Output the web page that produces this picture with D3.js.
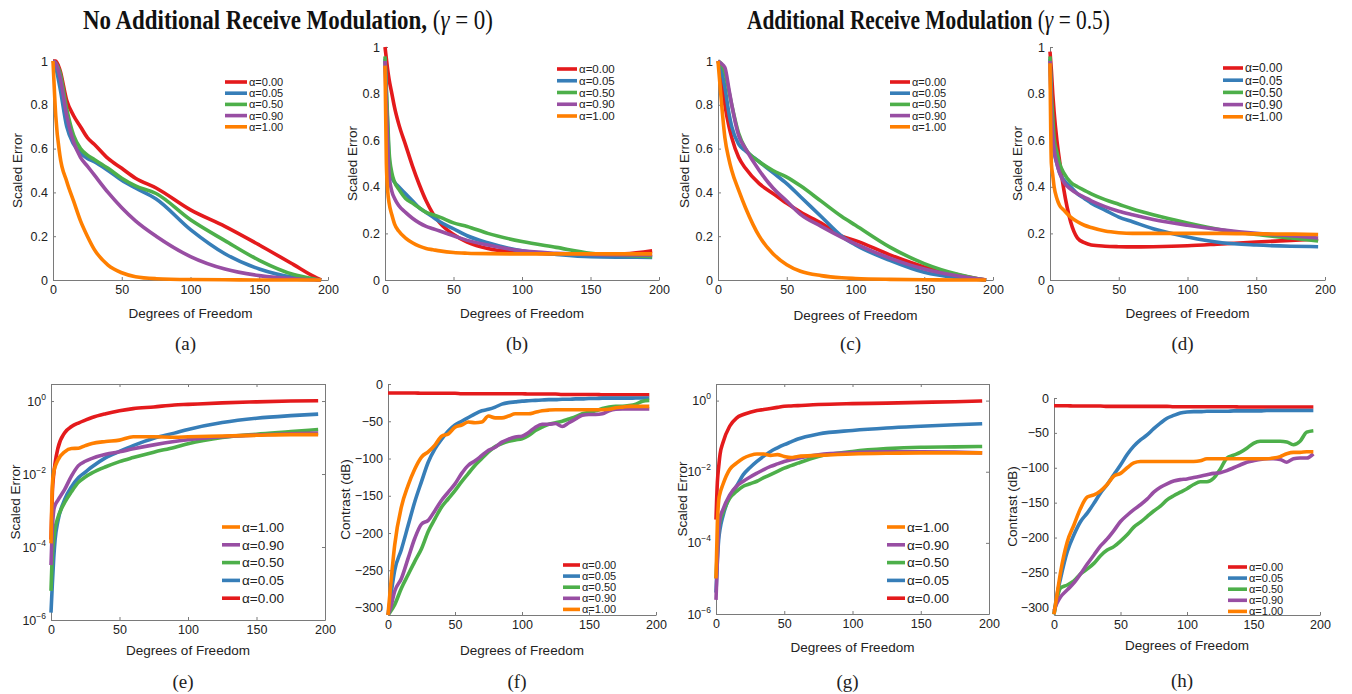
<!DOCTYPE html>
<html>
<head>
<meta charset="utf-8">
<script src="https://cdn.jsdelivr.net/npm/d3@7"></script>
<style>
  body { margin: 0; background: #fff; }
  .axis path, .axis line { stroke: #7a7a7a; }
  .axis text { fill: #222; font-family: "Liberation Sans", Arial, sans-serif; font-size: 12.5px; }
</style>
</head>
<body>
<svg id="fig" width="1352" height="694"></svg>
<script>
// ---- data ----
const titleLeft = ["No Additional Receive Modulation, ", "0"];
const titleRight = ["Additional Receive Modulation ", "0.5"];
const alphaLabels = ["α=0.00", "α=0.05", "α=0.50", "α=0.90", "α=1.00"];
const seriesColors = ["#e41a1c", "#377eb8", "#4daf4a", "#984ea3", "#ff7f00"];
const xTicks = [0, 50, 100, 150, 200];
const linTicks = [0, 0.2, 0.4, 0.6, 0.8, 1];
const logTicks = [1e-6, 1e-4, 1e-2, 1];
const dbTicks = [-300, -250, -200, -150, -100, -50, 0];

// (a) scaled error, gamma = 0
const xA = [0, 2, 5, 10, 15, 20, 25, 30, 40, 50, 60, 75, 100, 125, 150, 175, 190, 195];
const errA = [
  [1, 1, 0.96, 0.82, 0.75, 0.70, 0.65, 0.62, 0.555, 0.51, 0.465, 0.42, 0.32, 0.245, 0.16, 0.07, 0.015, 0],
  [1, 0.97, 0.88, 0.70, 0.62, 0.58, 0.555, 0.54, 0.5, 0.455, 0.42, 0.37, 0.23, 0.12, 0.05, 0.012, 0.002, 0],
  [1, 0.99, 0.95, 0.78, 0.66, 0.6, 0.57, 0.55, 0.51, 0.465, 0.43, 0.395, 0.275, 0.18, 0.09, 0.025, 0.005, 0],
  [1, 0.99, 0.93, 0.75, 0.63, 0.56, 0.52, 0.48, 0.40, 0.33, 0.27, 0.20, 0.107, 0.05, 0.02, 0.005, 0.001, 0],
  [1, 0.75, 0.57, 0.45, 0.36, 0.27, 0.2, 0.14, 0.068, 0.033, 0.015, 0.006, 0.002, 0.001, 0, 0, 0, 0]
];

// (b) scaled error, gamma = 0
const xB = [0, 1, 2, 3, 5, 7, 10, 15, 20, 25, 30, 35, 40, 50, 60, 75, 100, 125, 150, 175, 195];
const errB = [
  [1, 0.95, 0.9, 0.86, 0.8, 0.74, 0.67, 0.58, 0.49, 0.41, 0.34, 0.285, 0.245, 0.195, 0.163, 0.135, 0.118, 0.112, 0.108, 0.112, 0.125],
  [0.95, 0.8, 0.65, 0.52, 0.44, 0.42, 0.40, 0.37, 0.34, 0.31, 0.29, 0.27, 0.25, 0.22, 0.19, 0.16, 0.125, 0.11, 0.1, 0.098, 0.097],
  [0.96, 0.82, 0.68, 0.55, 0.46, 0.42, 0.39, 0.35, 0.33, 0.31, 0.29, 0.28, 0.27, 0.245, 0.23, 0.2, 0.165, 0.14, 0.115, 0.105, 0.1],
  [0.94, 0.75, 0.58, 0.45, 0.38, 0.35, 0.32, 0.29, 0.265, 0.245, 0.23, 0.22, 0.21, 0.19, 0.17, 0.15, 0.125, 0.115, 0.11, 0.108, 0.108],
  [0.92, 0.5, 0.38, 0.33, 0.28, 0.24, 0.21, 0.18, 0.16, 0.145, 0.135, 0.13, 0.125, 0.118, 0.115, 0.113, 0.112, 0.112, 0.112, 0.112, 0.112]
];

// (c) scaled error, gamma = 0.5
const xC = [0, 2, 5, 8, 10, 15, 20, 30, 40, 50, 60, 75, 90, 100, 125, 150, 175, 190, 195];
const errC = [
  [1, 0.95, 0.8, 0.7, 0.65, 0.56, 0.51, 0.44, 0.395, 0.35, 0.31, 0.26, 0.2, 0.18, 0.115, 0.06, 0.023, 0.005, 0],
  [1, 0.97, 0.88, 0.76, 0.7, 0.62, 0.59, 0.54, 0.49, 0.44, 0.38, 0.29, 0.2, 0.16, 0.09, 0.035, 0.01, 0.002, 0],
  [1, 0.99, 0.95, 0.86, 0.8, 0.67, 0.6, 0.54, 0.5, 0.47, 0.43, 0.36, 0.29, 0.25, 0.15, 0.075, 0.025, 0.005, 0],
  [1, 0.99, 0.97, 0.87, 0.8, 0.66, 0.6, 0.5, 0.42, 0.36, 0.3, 0.245, 0.195, 0.165, 0.1, 0.05, 0.018, 0.004, 0],
  [1, 0.85, 0.65, 0.55, 0.5, 0.41, 0.33, 0.2, 0.12, 0.07, 0.04, 0.02, 0.01, 0.007, 0.003, 0.001, 0, 0, 0]
];

// (d) scaled error, gamma = 0.5
const xD = [0, 1, 2, 3, 5, 7, 10, 15, 20, 25, 30, 40, 50, 60, 75, 100, 125, 150, 175, 195];
const errD = [
  [0.98, 0.9, 0.8, 0.72, 0.6, 0.51, 0.39, 0.25, 0.18, 0.16, 0.15, 0.145, 0.143, 0.142, 0.143, 0.147, 0.155, 0.163, 0.17, 0.175],
  [0.95, 0.72, 0.6, 0.55, 0.5, 0.46, 0.43, 0.4, 0.37, 0.35, 0.33, 0.3, 0.27, 0.25, 0.22, 0.185, 0.16, 0.15, 0.145, 0.143],
  [0.96, 0.8, 0.7, 0.61, 0.55, 0.5, 0.46, 0.42, 0.4, 0.385, 0.37, 0.345, 0.325, 0.305, 0.28, 0.245, 0.215, 0.195, 0.18, 0.168],
  [0.94, 0.72, 0.62, 0.56, 0.5, 0.46, 0.42, 0.39, 0.37, 0.355, 0.34, 0.315, 0.295, 0.28, 0.26, 0.235, 0.215, 0.2, 0.19, 0.18],
  [0.93, 0.5, 0.45, 0.4, 0.35, 0.32, 0.3, 0.27, 0.25, 0.235, 0.225, 0.21, 0.203, 0.2, 0.2, 0.2, 0.2, 0.198, 0.197, 0.195]
];

// (e) scaled error (log), gamma = 0
const xE = [0, 1, 2, 3, 5, 10, 15, 20, 25, 30, 40, 50, 60, 75, 90, 100, 125, 150, 175, 195];
const errE = [
  [1.6e-4, 3.2e-3, 0.01, 0.02, 0.05, 0.135, 0.2, 0.25, 0.3, 0.355, 0.45, 0.54, 0.62, 0.69, 0.78, 0.81, 0.89, 0.95, 1.0, 1.02],
  [1.6e-6, 1e-5, 5e-5, 1.6e-4, 5e-4, 2e-3, 4.5e-3, 7.9e-3, 0.0112, 0.0158, 0.0282, 0.0417, 0.060, 0.0955, 0.132, 0.166, 0.257, 0.339, 0.398, 0.437],
  [6.3e-6, 6.3e-5, 1.6e-4, 3.2e-4, 6.3e-4, 1.66e-3, 3.3e-3, 5.9e-3, 8.3e-3, 0.0107, 0.0158, 0.0219, 0.0282, 0.0398, 0.0537, 0.0676, 0.1, 0.123, 0.145, 0.166],
  [3.2e-5, 3.2e-4, 1e-3, 1.4e-3, 1.9e-3, 3.8e-3, 8.9e-3, 0.017, 0.0224, 0.0269, 0.0347, 0.0407, 0.049, 0.063, 0.0776, 0.087, 0.105, 0.117, 0.126, 0.132],
  [1.26e-4, 5e-3, 0.0112, 0.0158, 0.024, 0.0407, 0.05, 0.051, 0.06, 0.069, 0.078, 0.085, 0.105, 0.105, 0.102, 0.105, 0.11, 0.115, 0.12, 0.12]
];

// (f) contrast (dB), gamma = 0
const xF = [0, 2, 5, 10, 15, 20, 25, 30, 35, 40, 45, 50, 55, 60, 65, 70, 75, 80, 85, 90, 95, 100, 105, 110, 115, 120, 125, 130, 135, 140, 145, 150, 155, 160, 165, 170, 175, 180, 185, 190, 195];
const dbF = [
  [-12, -12, -12, -12, -12, -12, -12.5, -12.5, -12.5, -12.5, -12.5, -12.5, -13, -13, -13, -13, -13, -13, -13, -13, -13, -13, -13.5, -13.5, -13.5, -13.5, -13.5, -14, -14, -14, -14, -14, -14, -14.5, -14.5, -14.5, -14.5, -14.5, -14.5, -14.5, -14.5],
  [-310, -285, -250, -222, -190, -158, -131, -105, -87, -74, -63, -55, -50, -45, -40, -36, -34, -31, -27, -25, -24, -23, -22.5, -22, -21.5, -21, -21, -20.5, -20.5, -20, -20, -19.5, -19.5, -19, -19, -19, -19, -19, -18.8, -18.8, -18.8],
  [-310, -305, -296, -274, -256, -238, -221, -198, -181, -165, -154, -143, -131, -120, -109, -100, -91, -84, -80, -77, -75, -73.5, -69, -62.5, -58, -54, -52, -50, -47, -44, -40, -38, -36, -33, -31, -30, -30, -29, -27, -23, -22],
  [-310, -300, -278, -261, -234, -207, -188, -183, -170, -156, -145, -134, -120, -109, -103, -96, -89, -85, -78, -74, -71, -70, -65, -58, -54, -54, -53, -57, -52, -47, -42, -41, -41, -40, -36, -34, -33.5, -33.5, -33.5, -33.5, -33.5],
  [-310, -270, -216, -165, -136, -114, -98, -91, -82, -70, -67, -58, -55, -51, -52, -51, -43, -45.5, -45.5, -43, -40, -40, -40, -38, -36, -35, -34.5, -34.5, -34.5, -34.5, -34.5, -34.5, -34.5, -34.5, -34, -32, -31, -30, -30, -30, -30]
];

// (g) scaled error (log), gamma = 0.5
const xG = [0, 1, 2, 3, 5, 10, 15, 20, 25, 30, 35, 40, 45, 50, 55, 60, 75, 100, 125, 150, 175, 195];
const errG = [
  [4.5e-4, 5e-3, 0.0141, 0.0316, 0.0646, 0.19, 0.324, 0.407, 0.468, 0.525, 0.562, 0.603, 0.646, 0.692, 0.708, 0.724, 0.776, 0.822, 0.851, 0.891, 0.933, 0.977],
  [4e-6, 3.2e-5, 1.26e-4, 2.5e-4, 5.5e-4, 2e-3, 3.9e-3, 8.3e-3, 0.0132, 0.0195, 0.0275, 0.0372, 0.0468, 0.0575, 0.0692, 0.0832, 0.115, 0.145, 0.17, 0.19, 0.209, 0.224],
  [1e-5, 6.3e-5, 2.3e-4, 4e-4, 6.9e-4, 1.8e-3, 2.8e-3, 3.9e-3, 4.6e-3, 5.4e-3, 6.8e-3, 8.3e-3, 0.0102, 0.0126, 0.0148, 0.0174, 0.0269, 0.0372, 0.0447, 0.049, 0.0501, 0.0513],
  [2.5e-6, 3.2e-5, 2.3e-4, 5e-4, 8.5e-4, 2.2e-3, 3.9e-3, 5.4e-3, 7.1e-3, 9.1e-3, 0.0115, 0.0141, 0.0166, 0.0195, 0.0219, 0.024, 0.0302, 0.0347, 0.0363, 0.0363, 0.0355, 0.0339],
  [1e-5, 3.5e-4, 1.6e-3, 2.5e-3, 4.3e-3, 0.0115, 0.0174, 0.024, 0.0288, 0.0316, 0.0316, 0.0288, 0.0302, 0.0269, 0.0251, 0.0269, 0.0288, 0.0316, 0.0331, 0.0339, 0.0339, 0.0339]
];

// (h) contrast (dB), gamma = 0.5
const xH = xF;
const dbH = [
  [-11, -11, -11, -11, -11.5, -11.5, -11.5, -11.5, -11.5, -12, -12, -12, -12, -12, -12, -12, -12, -12, -12, -12.5, -12.5, -12.5, -12.5, -12.5, -12.5, -12.5, -12.5, -12.5, -12.5, -13, -13, -13, -13, -13, -13, -13, -13, -13, -13, -13, -13],
  [-310, -285, -258, -220, -196, -177, -165, -151, -136, -124, -110, -96, -81, -69, -60, -53, -44, -36, -29, -25, -21.5, -20, -19.5, -19.5, -19, -19, -19, -19, -18.5, -18.5, -18.5, -18.5, -18.5, -18, -18, -18, -18, -18, -18, -18, -18],
  [-310, -290, -272, -268, -262, -252, -245, -237, -226, -218, -213, -205, -196, -185, -178, -170, -162, -155, -146, -140, -135, -130, -124, -120, -120, -115, -102, -86, -82, -78, -72, -65, -62, -62, -62, -62, -63, -67, -62, -49, -47],
  [-305, -295, -285, -275, -265, -252, -238, -225, -212, -202, -190, -177, -168, -160, -153, -145, -135, -128, -123, -119, -117, -116, -114, -112, -110, -108, -107, -104, -100, -96, -92, -90, -88, -87, -87, -88, -92, -87, -86, -86, -80],
  [-310, -285, -249, -206, -182, -158, -142, -139, -133, -124, -112, -108, -100, -93, -91, -91, -91, -91, -91, -91, -91, -91, -91, -90, -87, -87, -87, -87, -87, -87, -87, -87, -87, -87, -86, -84, -80, -78, -78, -77, -77]
];

// ---- layout ----
const fwd = [0, 1, 2, 3, 4];
const rev = [4, 3, 2, 1, 0];
const panels = [
  { cap: "(a)", box: [53, 61, 328, 280], kind: "lin", xs: xA, ys: errA, yLab: "Scaled Error", yLabDx: -36, xLabY: 313, capY: 343, leg: [225, 82, 11.2, 22, 11], order: fwd },
  { cap: "(b)", box: [385, 47, 659, 280], kind: "lin", xs: xB, ys: errB, yLab: "Scaled Error", yLabDx: -33, xLabY: 313, capY: 343, leg: [557, 69, 11.75, 20, 11.5], order: fwd },
  { cap: "(c)", box: [718, 61, 993, 280], kind: "lin", xs: xC, ys: errC, yLab: "Scaled Error", yLabDx: -34, xLabY: 315, capY: 343, leg: [890, 82, 11.2, 20, 11], order: fwd },
  { cap: "(d)", box: [1050, 47, 1325, 280], kind: "lin", xs: xD, ys: errD, yLab: "Scaled Error", yLabDx: -33, xLabY: 313, capY: 343, leg: [1223, 68, 12.2, 20, 12], order: fwd },
  { cap: "(e)", box: [51, 384, 325, 620], kind: "log", xs: xE, ys: errE, yLab: "Scaled Error", yLabDx: -36, xLabY: 650, capY: 681, leg: [222, 527, 17.8, 18, 13.5], order: rev },
  { cap: "(f)", box: [388, 384, 656, 615], kind: "db", lo: -310, xs: xF, ys: dbF, yLab: "Contrast (dB)", yLabDx: -43, xLabY: 650, capY: 681, leg: [563, 565, 11.1, 17, 11], order: fwd },
  { cap: "(g)", box: [716, 384, 989, 614], kind: "log", xs: xG, ys: errG, yLab: "Scaled Error", yLabDx: -34, xLabY: 647, capY: 681, leg: [887, 527, 17.8, 18, 13.5], order: rev },
  { cap: "(h)", box: [1054, 398, 1320, 615], kind: "db", lo: -311, xs: xH, ys: dbH, yLab: "Contrast (dB)", yLabDx: -42, xLabY: 645, capY: 680, leg: [1228, 567, 11.1, 19, 11], order: fwd }
];

const svg = d3.select("#fig");
const sans = "'Liberation Sans', Arial, Helvetica, sans-serif";
const serif = "'Liberation Serif', 'Times New Roman', Times, serif";

// title: drawn at natural width, then stretched horizontally to span [x0, x1]
function title(x0, x1, parts) {
  const t = svg.append("text")
    .attr("font-family", serif)
    .attr("font-size", 27)
    .attr("font-weight", "bold")
    .attr("fill", "#111");
  t.append("tspan").text(parts[0]);
  t.append("tspan").attr("font-weight", "normal").text("(");
  t.append("tspan").attr("font-weight", "normal").attr("font-style", "italic").text("γ");
  t.append("tspan").attr("font-weight", "normal").text(" = " + parts[1] + ")");
  const node = t.node();
  const n = node.getNumberOfChars();
  const w = node.getEndPositionOfChar(n - 1).x - node.getStartPositionOfChar(0).x;
  t.attr("transform", `translate(${x0},29) scale(${(x1 - x0) / w},1)`);
}
title(83, 493, titleLeft);
title(747, 1110, titleRight);

function fmtLin(d) {
  if (d === 0) return "0";
  if (d === 1) return "1";
  return d.toFixed(1);
}

function drawPanel(p) {
  const [l, t, r, b] = p.box;
  const x = d3.scaleLinear().domain([0, 200]).range([l, r]);
  let y;
  if (p.kind === "lin") y = d3.scaleLinear().domain([0, 1]).range([b, t]);
  else if (p.kind === "log") y = d3.scaleLog().domain([1e-6, 2.93]).range([b, t]);
  else y = d3.scaleLinear().domain([p.lo, 0]).range([b, t]);

  const g = svg.append("g");

  // box for log panels
  if (p.kind === "log") {
    g.append("g").attr("class", "axis")
      .attr("transform", `translate(0,${t})`)
      .call(d3.axisTop(x).tickValues(xTicks).tickSizeInner(-3).tickSizeOuter(0).tickFormat(""));
    g.append("g").attr("class", "axis")
      .attr("transform", `translate(${r},0)`)
      .call(d3.axisRight(y).tickValues(logTicks).tickSizeInner(-3).tickSizeOuter(0).tickFormat(""));
  }

  // x axis
  g.append("g").attr("class", "axis")
    .attr("transform", `translate(0,${b})`)
    .call(d3.axisBottom(x).tickValues(xTicks).tickSizeInner(-3).tickSizeOuter(0).tickPadding(5));

  // y axis
  const ya = d3.axisLeft(y).tickSizeInner(-3).tickSizeOuter(0).tickPadding(5);
  if (p.kind === "lin") ya.tickValues(linTicks).tickFormat(fmtLin);
  else if (p.kind === "db") ya.tickValues(dbTicks).tickFormat(d => d === 0 ? "0" : "\u2212" + Math.abs(d));
  else ya.tickValues(logTicks).tickFormat("");
  const yg = g.append("g").attr("class", "axis")
    .attr("transform", `translate(${l},0)`)
    .call(ya);
  if (p.kind === "log") {
    yg.selectAll(".tick text").each(function (d) {
      const e = Math.round(Math.log10(d));
      const txt = d3.select(this);
      txt.append("tspan").text("10");
      txt.append("tspan").attr("font-size", "8.5px").attr("dy", "-0.7em")
        .text(e < 0 ? "\u2212" + Math.abs(e) : String(e));
    });
  }
  g.selectAll(".axis path").attr("stroke-width", 1);

  // curves
  const line = d3.line()
    .x((d, i) => x(p.xs[i]))
    .y(d => y(d))
    .curve(d3.curveMonotoneX);
  p.ys.forEach((vals, k) => {
    g.append("path")
      .datum(vals)
      .attr("fill", "none")
      .attr("stroke", seriesColors[k])
      .attr("stroke-width", 3.6)
      .attr("stroke-linejoin", "round")
      .attr("d", line);
  });

  // legend
  const [lx, ly, step, len, fs] = p.leg;
  p.order.forEach((k, row) => {
    const yy = ly + row * step;
    g.append("line")
      .attr("x1", lx).attr("x2", lx + len)
      .attr("y1", yy).attr("y2", yy)
      .attr("stroke", seriesColors[k]).attr("stroke-width", 3.6);
    g.append("text")
      .attr("x", lx + len + 2).attr("y", yy).attr("dy", "0.36em")
      .attr("font-family", sans).attr("font-size", fs).attr("fill", "#222")
      .text(alphaLabels[k]);
  });

  // axis labels
  g.append("text")
    .attr("x", (l + r) / 2).attr("y", p.xLabY).attr("dy", "0.35em")
    .attr("text-anchor", "middle")
    .attr("font-family", sans).attr("font-size", 13.5).attr("fill", "#222")
    .text("Degrees of Freedom");
  g.append("text")
    .attr("transform", `translate(${l + p.yLabDx},${(t + b) / 2}) rotate(-90)`)
    .attr("dy", "0.35em")
    .attr("text-anchor", "middle")
    .attr("font-family", sans).attr("font-size", 13.5).attr("fill", "#222")
    .text(p.yLab);

  // caption
  g.append("text")
    .attr("x", (l + r) / 2 - 5).attr("y", p.capY).attr("dy", "0.35em")
    .attr("text-anchor", "middle")
    .attr("font-family", serif).attr("font-size", 19).attr("fill", "#222")
    .text(p.cap);
}

panels.forEach(drawPanel);
</script>
</body>
</html>
